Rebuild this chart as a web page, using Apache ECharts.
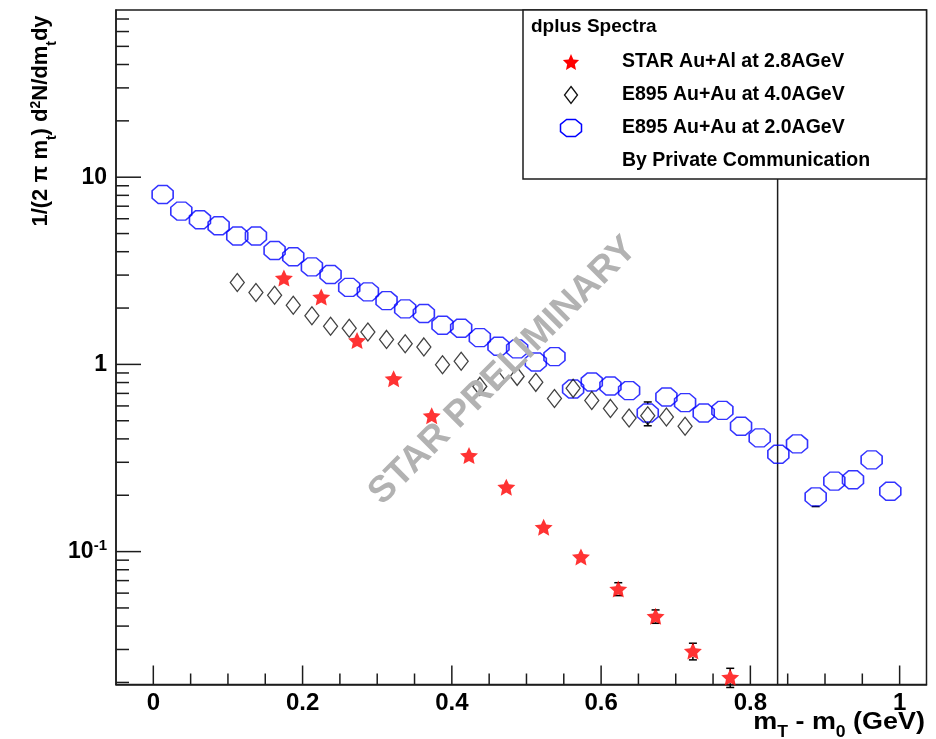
<!DOCTYPE html>
<html>
<head>
<meta charset="utf-8">
<title>dplus Spectra</title>
<script src="https://cdn.jsdelivr.net/npm/echarts@6/dist/echarts.min.js"></script>
<style>
  html, body { margin: 0; padding: 0; background: #ffffff; }
  #chart { width: 936px; height: 739px; }
</style>
</head>
<body>
<div id="chart"></div>
<script>
// d+ invariant yields versus m_T - m_0 (GeV)

// STAR Au+Al at 2.8 AGeV
const starX = [0.175, 0.225, 0.273, 0.322, 0.373, 0.423, 0.473, 0.523, 0.573, 0.623, 0.673, 0.723, 0.773];
const starY = [2.89, 2.29, 1.34, 0.839, 0.532, 0.326, 0.221, 0.135, 0.0937, 0.0632, 0.0451, 0.0294, 0.0213];
const starErr = [0.12, 0.1, 0.06, 0.04, 0.025, 0.016, 0.01, 0.007, 0.006, 0.005, 0.0037, 0.003, 0.0025];

// E895 Au+Au at 4.0 AGeV
const e895HighX = [0.1125, 0.1375, 0.1625, 0.1875, 0.2125, 0.2375, 0.2625, 0.2875, 0.3125, 0.3375,
                   0.3625, 0.3875, 0.4125, 0.4375, 0.4625, 0.4875, 0.5125, 0.5375, 0.5625, 0.5875,
                   0.6125, 0.6375, 0.6625, 0.6875, 0.7125];
const e895HighY = [2.74, 2.42, 2.34, 2.07, 1.82, 1.60, 1.56, 1.49, 1.36, 1.29,
                   1.24, 0.996, 1.04, 0.763, 0.821, 0.863, 0.802, 0.658, 0.745, 0.642,
                   0.582, 0.517, 0.532, 0.524, 0.467];
const e895HighErr = [0.05, 0.05, 0.05, 0.04, 0.04, 0.03, 0.03, 0.03, 0.03, 0.03,
                     0.03, 0.02, 0.02, 0.02, 0.02, 0.02, 0.02, 0.02, 0.02, 0.02,
                     0.02, 0.02, 0.02, 0.02, 0.02];

// E895 Au+Au at 2.0 AGeV
const e895LowX = [0.0125, 0.0375, 0.0625, 0.0875, 0.1125, 0.1375, 0.1625, 0.1875, 0.2125, 0.2375,
                  0.2625, 0.2875, 0.3125, 0.3375, 0.3625, 0.3875, 0.4125, 0.4375, 0.4625, 0.4875,
                  0.5125, 0.5375, 0.5625, 0.5875, 0.6125, 0.6375, 0.6625, 0.6875, 0.7125, 0.7375,
                  0.7625, 0.7875, 0.8125, 0.8375, 0.8625, 0.8875, 0.9125, 0.9375, 0.9625, 0.9875];
const e895LowY = [8.08, 6.59, 5.93, 5.50, 4.85, 4.85, 4.06, 3.76, 3.32, 3.02,
                  2.58, 2.44, 2.19, 1.98, 1.87, 1.62, 1.56, 1.39, 1.25, 1.21,
                  1.03, 1.10, 0.739, 0.806, 0.767, 0.724, 0.550, 0.670, 0.625, 0.550,
                  0.568, 0.467, 0.405, 0.331, 0.376, 0.196, 0.238, 0.242, 0.309, 0.210];
const e895LowErr = [0.2, 0.15, 0.13, 0.12, 0.1, 0.1, 0.08, 0.07, 0.06, 0.06,
                    0.05, 0.05, 0.04, 0.04, 0.04, 0.03, 0.03, 0.03, 0.03, 0.03,
                    0.03, 0.03, 0.02, 0.02, 0.02, 0.02, 0.08, 0.02, 0.02, 0.02,
                    0.02, 0.02, 0.02, 0.02, 0.02, 0.022, 0.02, 0.02, 0.02, 0.02];

const seriesNames = ['STAR Au+Al at 2.8AGeV', 'E895 Au+Au at 4.0AGeV', 'E895 Au+Au at 2.0AGeV'];
const legendTitle = 'dplus Spectra';
const legendNote = 'By Private Communication';
const watermarkText = 'STAR PRELIMINARY';

// axes
const xRange = [-0.05, 1.036];
const yRange = [0.0195, 78.2];
const xTickLabels = [0, 0.2, 0.4, 0.6, 0.8, 1];
const xMinorTicks = [0.05, 0.1, 0.15, 0.25, 0.3, 0.35, 0.45, 0.5, 0.55, 0.65, 0.7, 0.75, 0.85, 0.9, 0.95];
const yTickLabels = [0.1, 1, 10];
const yMinorTicks = [0.02, 0.03, 0.04, 0.05, 0.06, 0.07, 0.08, 0.09,
                     0.2, 0.3, 0.4, 0.5, 0.6, 0.7, 0.8, 0.9,
                     2, 3, 4, 5, 6, 7, 8, 9,
                     20, 30, 40, 50, 60, 70];
const cutLineX = 0.8365;

const FONT = '"Liberation Sans", Arial, Helvetica, sans-serif';
const FRAME = '#1c1c1c';
const BLUE = '#0000ff';

// marker shapes
const OCTAGON = 'path://M29 0L71 0L100 29L100 71L71 100L29 100L0 71L0 29Z';
const STAR = 'path://M50 0L64 30.5L97.6 34.5L72.6 57.5L79.4 90.5L50 74L20.6 90.5L27.4 57.5L2.4 34.5L36 30.5Z';

function zip3(xs, ys, es) {
  return xs.map((x, i) => [x, ys[i], es[i]]);
}

// axis ticks drawn inward from the frame, plus the vertical cut line
function renderFrame(params, api) {
  const cs = params.coordSys;
  const bottom = cs.y + cs.height;
  const left = cs.x;
  const children = [];
  const line = (x1, y1, x2, y2) => children.push({
    type: 'line',
    shape: { x1, y1, x2, y2 },
    style: { stroke: FRAME, lineWidth: 1.5 }
  });
  xTickLabels.forEach(v => { const px = api.coord([v, 1])[0]; line(px, bottom, px, bottom - 19); });
  xMinorTicks.forEach(v => { const px = api.coord([v, 1])[0]; line(px, bottom, px, bottom - 11); });
  yTickLabels.forEach(v => { const py = api.coord([0.5, v])[1]; line(left, py, left + 25, py); });
  yMinorTicks.forEach(v => { const py = api.coord([0.5, v])[1]; line(left, py, left + 13, py); });
  const cx = api.coord([cutLineX, 1])[0];
  line(cx, cs.y, cx, bottom);
  return { type: 'group', children };
}

// vertical error bars, drawn only outside the marker body
function makeErrorRenderer(gap) {
  return function (params, api) {
    const x = api.value(0), y = api.value(1), e = api.value(2);
    const c = api.coord([x, y]);
    const hi = api.coord([x, y + e]);
    const lo = api.coord([x, y - e]);
    const w = 4;
    const st = { stroke: '#000', lineWidth: 1.5 };
    const children = [];
    if (c[1] - hi[1] > gap) {
      children.push({ type: 'line', shape: { x1: c[0], y1: c[1] - gap, x2: hi[0], y2: hi[1] }, style: st });
      children.push({ type: 'line', shape: { x1: hi[0] - w, y1: hi[1], x2: hi[0] + w, y2: hi[1] }, style: st });
    }
    if (lo[1] - c[1] > gap) {
      children.push({ type: 'line', shape: { x1: c[0], y1: c[1] + gap, x2: lo[0], y2: lo[1] }, style: st });
      children.push({ type: 'line', shape: { x1: lo[0] - w, y1: lo[1], x2: lo[0] + w, y2: lo[1] }, style: st });
    }
    return { type: 'group', children };
  };
}

function polygonAround(cx, cy, pts, w, h) {
  return pts.map(p => [cx + (p[0] - 0.5) * w, cy + (p[1] - 0.5) * h]);
}
const octagonPts = [[0.29, 0], [0.71, 0], [1, 0.29], [1, 0.71], [0.71, 1], [0.29, 1], [0, 0.71], [0, 0.29]];
const diamondPts = [[0.5, 0], [1, 0.5], [0.5, 1], [0, 0.5]];
const starPts = [[0.5, 0], [0.64, 0.337], [0.976, 0.381], [0.726, 0.635], [0.794, 1],
                 [0.5, 0.818], [0.206, 1], [0.274, 0.635], [0.024, 0.381], [0.36, 0.337]];

const legendText = (t, y) => ({
  type: 'text', x: 622, y: y, z: 101,
  style: { text: t, fill: '#000', fontFamily: FONT, fontWeight: 'bold', fontSize: 19.5,
           align: 'left', verticalAlign: 'middle' }
});

const chart = echarts.init(document.getElementById('chart'), null, { renderer: 'canvas' });

chart.setOption({
  animation: false,
  backgroundColor: '#ffffff',
  grid: {
    left: 116, top: 10, width: 810.5, height: 674.5,
    show: true, borderColor: FRAME, borderWidth: 1.5, backgroundColor: 'transparent'
  },
  xAxis: {
    type: 'value',
    min: xRange[0], max: xRange[1],
    axisLine: { show: true, onZero: false, lineStyle: { color: FRAME, width: 1.5 } },
    axisTick: { show: false },
    splitLine: { show: false },
    axisLabel: {
      customValues: xTickLabels,
      margin: 7,
      color: '#000', fontFamily: FONT, fontWeight: 'bold', fontSize: 24,
      formatter: v => (Math.abs(v) < 1e-9 ? '0' : Math.abs(v - 1) < 1e-9 ? '1' : v.toFixed(1))
    }
  },
  yAxis: {
    type: 'log', logBase: 10,
    min: yRange[0], max: yRange[1],
    axisLine: { show: true, onZero: false, lineStyle: { color: FRAME, width: 1.5 } },
    axisTick: { show: false },
    splitLine: { show: false },
    minorTick: { show: false },
    axisLabel: {
      margin: 9,
      color: '#000', fontFamily: FONT, fontWeight: 'bold', fontSize: 23,
      formatter: v => {
        if (Math.abs(v - 10) < 1e-6) return '10';
        if (Math.abs(v - 1) < 1e-6) return '1';
        if (Math.abs(v - 0.1) < 1e-7) return '{b|10}{s|-1}';
        return '';
      },
      rich: {
        b: { fontFamily: FONT, fontWeight: 'bold', fontSize: 23, lineHeight: 26, color: '#000' },
        s: { fontFamily: FONT, fontWeight: 'bold', fontSize: 15, lineHeight: 15, color: '#000',
             padding: [0, 0, 14, 0], verticalAlign: 'top' }
      }
    }
  },
  series: [
    {
      type: 'custom', name: 'frame', coordinateSystem: 'cartesian2d',
      data: [[0.5, 1]], renderItem: renderFrame, silent: true, clip: false, z: 1
    },
    {
      type: 'custom', name: 'err2', coordinateSystem: 'cartesian2d',
      data: zip3(e895LowX, e895LowY, e895LowErr), renderItem: makeErrorRenderer(9), silent: true, z: 2
    },
    {
      type: 'custom', name: 'err4', coordinateSystem: 'cartesian2d',
      data: zip3(e895HighX, e895HighY, e895HighErr), renderItem: makeErrorRenderer(9), silent: true, z: 2
    },
    {
      type: 'custom', name: 'errStar', coordinateSystem: 'cartesian2d',
      data: zip3(starX, starY, starErr), renderItem: makeErrorRenderer(6), silent: true, z: 2
    },
    {
      type: 'scatter', name: seriesNames[2],
      data: e895LowX.map((x, i) => [x, e895LowY[i]]),
      symbol: OCTAGON, symbolSize: [21, 18],
      itemStyle: { color: 'transparent', borderColor: BLUE, borderWidth: 1.5 },
      z: 3
    },
    {
      type: 'scatter', name: seriesNames[1],
      data: e895HighX.map((x, i) => [x, e895HighY[i]]),
      symbol: 'diamond', symbolSize: [14, 18],
      itemStyle: { color: 'transparent', borderColor: '#111', borderWidth: 1.3 },
      z: 4
    },
    {
      type: 'scatter', name: seriesNames[0],
      data: starX.map((x, i) => [x, starY[i]]),
      symbol: STAR, symbolSize: [18, 17],
      itemStyle: { color: '#ff0000' },
      z: 5
    }
  ],
  graphic: [
    // legend box
    { type: 'rect', z: 100, shape: { x: 523, y: 10, width: 403.5, height: 169 },
      style: { fill: '#ffffff', stroke: FRAME, lineWidth: 1.5 } },
    { type: 'text', x: 531, y: 27, z: 101,
      style: { text: legendTitle, fill: '#000', fontFamily: FONT, fontWeight: 'bold', fontSize: 19,
               align: 'left', verticalAlign: 'middle' } },
    { type: 'polygon', z: 101, shape: { points: polygonAround(571, 62, starPts, 17, 16) },
      style: { fill: '#ff0000' } },
    { type: 'polygon', z: 101, shape: { points: polygonAround(571, 95, diamondPts, 13, 17) },
      style: { fill: 'none', stroke: '#111', lineWidth: 1.3 } },
    { type: 'polygon', z: 101, shape: { points: polygonAround(571, 128, octagonPts, 21, 17) },
      style: { fill: 'none', stroke: BLUE, lineWidth: 1.5 } },
    legendText(seriesNames[0], 62),
    legendText(seriesNames[1], 95),
    legendText(seriesNames[2], 128),
    legendText(legendNote, 161),
    // watermark
    { type: 'text', x: 503, y: 371, rotation: Math.PI / 4, z: 90,
      style: { text: watermarkText, fill: '#b2b2b2', fontFamily: FONT, fontWeight: 'bold', fontSize: 37,
               align: 'center', verticalAlign: 'middle' } },
    // y axis title
    { type: 'text', x: 41, y: 121, rotation: Math.PI / 2, z: 101,
      style: {
        text: '1/(2 \u03c0 m{sub|t}) d{sup|2}N/dm{sub|t}dy',
        fill: '#000', fontFamily: FONT, fontWeight: 'bold', fontSize: 22, lineHeight: 24,
        align: 'center', verticalAlign: 'middle',
        rich: {
          sub: { fontFamily: FONT, fontWeight: 'bold', fontSize: 14, lineHeight: 14, fill: '#000',
                 padding: [16, 0, 0, 0], verticalAlign: 'top' },
          sup: { fontFamily: FONT, fontWeight: 'bold', fontSize: 14, lineHeight: 14, fill: '#000',
                 padding: [0, 0, 16, 0], verticalAlign: 'top' }
        }
      } },
    // x axis title
    { type: 'text', x: 925, y: 722, z: 101, scaleX: 1.1,
      style: {
        text: 'm{sub|T} - m{sub|0} (GeV)',
        fill: '#000', fontFamily: FONT, fontWeight: 'bold', fontSize: 24.5, lineHeight: 26,
        align: 'right', verticalAlign: 'middle',
        rich: {
          sub: { fontFamily: FONT, fontWeight: 'bold', fontSize: 16, lineHeight: 16, fill: '#000',
                 padding: [16, 0, 0, 0], verticalAlign: 'top' }
        }
      } }
  ]
});
</script>
</body>
</html>
